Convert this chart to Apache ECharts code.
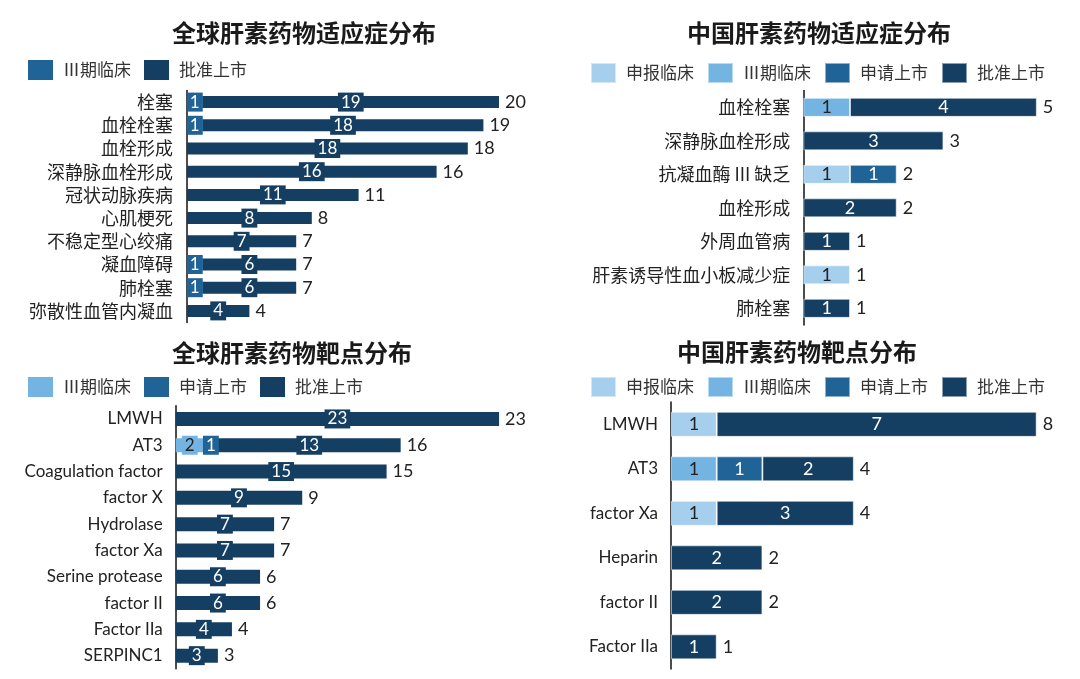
<!DOCTYPE html>
<html><head><meta charset="utf-8">
<script src="https://cdn.jsdelivr.net/npm/echarts@6/dist/echarts.min.js"></script>
<style>
html,body{margin:0;padding:0;background:#fff;}
#wrap{position:relative;width:1080px;height:679px;}
.p{position:absolute;}
</style></head>
<body><div id="wrap">
<div class="p" id="c1" style="left:0;top:0;width:540px;height:330px"></div>
<div class="p" id="c2" style="left:540px;top:0;width:540px;height:330px"></div>
<div class="p" id="c3" style="left:0;top:330px;width:540px;height:349px"></div>
<div class="p" id="c4" style="left:540px;top:330px;width:540px;height:349px"></div>
</div>
<script>
// ---- Data ----
const globalIndCats = ['栓塞','血栓栓塞','血栓形成','深静脉血栓形成','冠状动脉疾病','心肌梗死','不稳定型心绞痛','凝血障碍','肺栓塞','弥散性血管内凝血'];
const globalIndPhase3 = [1,1,0,0,0,0,0,1,1,0];
const globalIndApproved = [19,18,18,16,11,8,7,6,6,4];

const chinaIndCats = ['血栓栓塞','深静脉血栓形成','抗凝血酶 III 缺乏','血栓形成','外周血管病','肝素诱导性血小板减少症','肺栓塞'];
const chinaIndIND = [0,0,1,0,0,1,0];
const chinaIndPhase3 = [1,0,0,0,0,0,0];
const chinaIndNDA = [0,0,1,0,0,0,0];
const chinaIndApproved = [4,3,0,2,1,0,1];

const globalTgtCats = ['LMWH','AT3','Coagulation factor','factor X','Hydrolase','factor Xa','Serine protease','factor II','Factor IIa','SERPINC1'];
const globalTgtPhase3 = [0,2,0,0,0,0,0,0,0,0];
const globalTgtNDA = [0,1,0,0,0,0,0,0,0,0];
const globalTgtApproved = [23,13,15,9,7,7,6,6,4,3];

const chinaTgtCats = ['LMWH','AT3','factor Xa','Heparin','factor II','Factor IIa'];
const chinaTgtIND = [1,0,1,0,0,0];
const chinaTgtPhase3 = [0,1,0,0,0,0];
const chinaTgtNDA = [0,1,0,0,0,0];
const chinaTgtApproved = [7,2,3,2,2,1];

// ---- Style ----
const C_LIGHTEST = '#a6cfee', C_LIGHT = '#74b4e2', C_MED = '#1f6397', C_DARK = '#153f62';
const CJK = '"Noto Sans CJK SC", sans-serif';
const LAT = 'Lato, "Noto Sans", sans-serif';

function nz(arr){ return arr.map(v => v === 0 ? '-' : v); }
function totals(list){ return list[0].map((_, i) => list.reduce((s, a) => s + a[i], 0)); }

function build(el, cfg){
  const chart = echarts.init(document.getElementById(el), null, {renderer:'canvas'});
  const series = cfg.series.map(s => ({
    name: s.name, type: 'bar', stack: 'a', barWidth: cfg.barWidth,
    data: nz(s.data),
    itemStyle: {color: s.color, borderColor: 'rgba(255,255,255,0.5)', borderWidth: cfg.boxed ? 0 : 1},
    label: {
      show: true, position: 'inside', color: s.textColor || '#fff',
      fontFamily: LAT, fontSize: cfg.labelSize,
      backgroundColor: cfg.boxed ? s.color : 'transparent',
      padding: cfg.boxed ? [1, 3, 1, 3] : 0
    },
    z: 3
  }));
  series.push({
    name: 'total', type: 'bar', barWidth: cfg.barWidth, barGap: '-100%',
    data: totals(cfg.series.map(s => s.data)),
    itemStyle: {color: 'rgba(0,0,0,0)'},
    label: {show: true, position: 'right', distance: 6, color: '#222', fontFamily: LAT, fontSize: 18},
    z: 1, silent: true
  });
  chart.setOption({
    animation: false,
    title: {text: cfg.title, left: cfg.titleLeft, top: cfg.titleTop, padding: 0,
      textStyle: {fontFamily: CJK, fontWeight: 'bold', fontSize: 24, color: '#1a1a1a'}},
    legend: {data: cfg.series.map(s => s.name), left: cfg.legendLeft, top: cfg.legendTop,
      itemWidth: 25, itemHeight: 20, itemGap: 13, padding: 0, icon: 'rect',
      textStyle: {fontFamily: CJK, fontSize: 17, color: '#333', padding: [0,0,0,5]}},
    grid: {left: cfg.grid[0], top: cfg.grid[1], width: cfg.grid[2], height: cfg.grid[3], containLabel: false},
    xAxis: {type: 'value', min: 0, max: cfg.xMax, show: false},
    yAxis: {type: 'category', inverse: true, data: cfg.cats,
      axisLine: {show: true, lineStyle: {color: '#111', width: 1.5}},
      axisTick: {show: false},
      axisLabel: {interval: 0, margin: cfg.labelMargin, color: '#222', fontSize: cfg.catSize, fontFamily: cfg.catFont}},
    series: series
  });
}

build('c1', {
  title: '全球肝素药物适应症分布', titleLeft: 172, titleTop: 21,
  legendLeft: 28, legendTop: 60,
  grid: [187, 90.5, 343.2, 232], xMax: 22, barWidth: 12, boxed: true, labelSize: 17,
  labelMargin: 14, catSize: 18, catFont: CJK, cats: globalIndCats,
  series: [
    {name: 'Ⅲ期临床', data: globalIndPhase3, color: C_MED},
    {name: '批准上市', data: globalIndApproved, color: C_DARK}
  ]
});

build('c2', {
  title: '中国肝素药物适应症分布', titleLeft: 687 - 540, titleTop: 21,
  legendLeft: 50, legendTop: 62,
  grid: [263.3, 90.6, 256.9, 234.5], xMax: 5.5, barWidth: 19, boxed: false, labelSize: 18,
  labelMargin: 13, catSize: 18, catFont: CJK, cats: chinaIndCats,
  series: [
    {name: '申报临床', data: chinaIndIND, color: C_LIGHTEST, textColor: '#222'},
    {name: 'Ⅲ期临床', data: chinaIndPhase3, color: C_LIGHT, textColor: '#222'},
    {name: '申请上市', data: chinaIndNDA, color: C_MED},
    {name: '批准上市', data: chinaIndApproved, color: C_DARK}
  ]
});

build('c3', {
  title: '全球肝素药物靶点分布', titleLeft: 172, titleTop: 11,
  legendLeft: 28, legendTop: 47,
  grid: [175.7, 75.8, 351.5, 263], xMax: 25, barWidth: 14, boxed: true, labelSize: 17,
  labelMargin: 13, catSize: 17, catFont: LAT, cats: globalTgtCats,
  series: [
    {name: 'Ⅲ期临床', data: globalTgtPhase3, color: C_LIGHT, textColor: '#222'},
    {name: '申请上市', data: globalTgtNDA, color: C_MED},
    {name: '批准上市', data: globalTgtApproved, color: C_DARK}
  ]
});

build('c4', {
  title: '中国肝素药物靶点分布', titleLeft: 137, titleTop: 10,
  legendLeft: 50, legendTop: 46,
  grid: [131, 72.1, 388.5, 267], xMax: 8.5, barWidth: 25, boxed: false, labelSize: 18,
  labelMargin: 13, catSize: 17, catFont: LAT, cats: chinaTgtCats,
  series: [
    {name: '申报临床', data: chinaTgtIND, color: C_LIGHTEST, textColor: '#222'},
    {name: 'Ⅲ期临床', data: chinaTgtPhase3, color: C_LIGHT, textColor: '#222'},
    {name: '申请上市', data: chinaTgtNDA, color: C_MED},
    {name: '批准上市', data: chinaTgtApproved, color: C_DARK}
  ]
});
</script>
</body></html>
